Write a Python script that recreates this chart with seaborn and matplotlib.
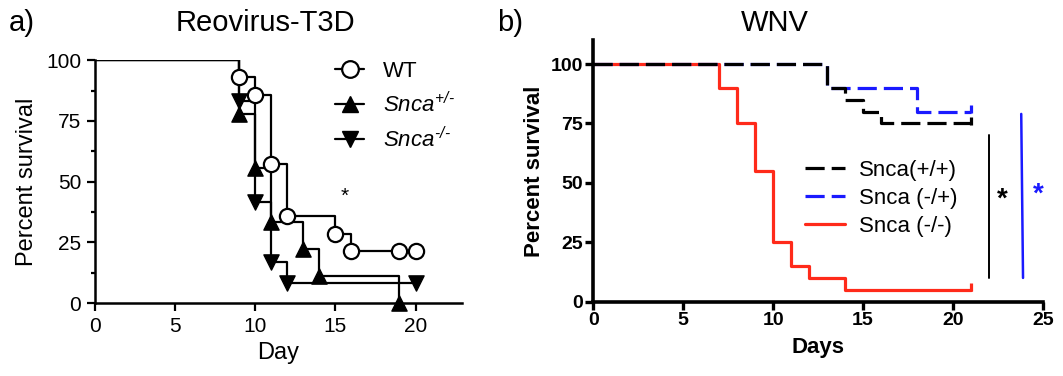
import matplotlib
matplotlib.use("Agg")
import matplotlib.pyplot as plt
import seaborn as sns
from matplotlib.lines import Line2D

# ---------------- data ----------------
# panel a: Reovirus-T3D, percent survival at each step (first point = start)
reo_wt_days = [0, 9, 10, 11, 12, 15, 16, 19, 20]
reo_wt_surv = [100, 92.9, 85.7, 57.1, 35.7, 28.6, 21.4, 21.4, 21.4]
reo_het_days = [0, 9, 10, 11, 13, 14, 19]
reo_het_surv = [100, 77.8, 55.6, 33.3, 22.2, 11.1, 0]
reo_ko_days = [0, 9, 10, 11, 12, 20]
reo_ko_surv = [100, 83.3, 41.7, 16.7, 8.3, 8.3]

# panel b: WNV
wnv_wt_days = [0, 13, 14, 15, 16, 21]
wnv_wt_surv = [100, 90, 85, 80, 75, 75]
wnv_het_days = [0, 13, 18, 21]
wnv_het_surv = [100, 90, 80, 80]
wnv_ko_days = [0, 7, 8, 9, 10, 11, 12, 14, 21]
wnv_ko_surv = [100, 90, 75, 55, 25, 15, 10, 5, 5]

reo_labels = ["WT", r"$\mathit{Snca}^{\mathit{+/\text{-}}}$",
              r"$\mathit{Snca}^{\text{-/-}}$"]
wnv_labels = ["Snca(+/+)", "Snca (-/+)", "Snca (-/-)"]

# ---------------- style ----------------
sns.set_style("ticks")
plt.rcParams["font.family"] = ["Liberation Sans", "DejaVu Sans"]
plt.rcParams["mathtext.fontset"] = "custom"
plt.rcParams["mathtext.rm"] = "Liberation Sans:italic"
plt.rcParams["mathtext.it"] = "Liberation Sans:italic"
for key in ["text.color", "axes.labelcolor", "axes.edgecolor",
            "xtick.color", "ytick.color"]:
    plt.rcParams[key] = "black"

fig = plt.figure(figsize=(10.63, 3.76), dpi=100)
ax1 = fig.add_axes([0.0894, 0.194, 0.3452, 0.646])
ax2 = fig.add_axes([0.5582, 0.1976, 0.4228, 0.6954])

# ======================================================
# panel a
# ======================================================
lw_a = 1.6
for days, surv in [(reo_wt_days, reo_wt_surv), (reo_het_days, reo_het_surv),
                   (reo_ko_days, reo_ko_surv)]:
    sns.lineplot(x=days, y=surv, ax=ax1, color="black", lw=lw_a,
                 drawstyle="steps-post", estimator=None, sort=False)

sns.scatterplot(x=reo_het_days[1:], y=reo_het_surv[1:], ax=ax1, marker="^",
                s=120, color="black", edgecolor="black", linewidth=1,
                clip_on=False, zorder=5)
sns.scatterplot(x=reo_ko_days[1:], y=reo_ko_surv[1:], ax=ax1, marker="v",
                s=120, color="black", edgecolor="black", linewidth=1,
                clip_on=False, zorder=5)
sns.scatterplot(x=reo_wt_days[1:], y=reo_wt_surv[1:], ax=ax1, marker="o",
                s=120, color="white", edgecolor="black", linewidth=1.6,
                clip_on=False, zorder=6)

ax1.set_xlim(0, 22.9)
ax1.set_ylim(0, 100)
ax1.set_xticks([0, 5, 10, 15, 20])
ax1.set_yticks([0, 25, 50, 75, 100])
ax1.set_yticks([12.5, 37.5, 62.5, 87.5], minor=True)
ax1.tick_params(axis="both", which="major", labelsize=15, length=6, width=1.6,
                pad=4, direction="out")
ax1.tick_params(axis="y", which="minor", length=3, width=1.6)
for s in ["left", "bottom"]:
    ax1.spines[s].set_linewidth(1.8)
sns.despine(ax=ax1)
ax1.set_xlabel("Day", fontsize=17, labelpad=4)
ax1.set_ylabel("Percent survival", fontsize=17, labelpad=6)
ax1.text(15.6, 44, "*", fontsize=15, ha="center", va="center")

handles_a = [
    Line2D([], [], color="black", lw=lw_a, marker="o", ms=12, mfc="white",
           mec="black", mew=1.6),
    Line2D([], [], color="black", lw=lw_a, marker="^", ms=12, mfc="black",
           mec="black"),
    Line2D([], [], color="black", lw=lw_a, marker="v", ms=12, mfc="black",
           mec="black"),
]
ax1.legend(handles_a, reo_labels, loc="upper left", bbox_to_anchor=(0.63, 1.035),
           frameon=False, fontsize=16, handlelength=1.3, handletextpad=0.85,
           labelspacing=0.45, borderaxespad=0)

# ======================================================
# panel b
# ======================================================
lw_b = 2.3
dash = (0, (6, 2.2))
wnv_series = [
    (wnv_ko_days, wnv_ko_surv, "#ff2a1a", "-"),
    (wnv_het_days, wnv_het_surv, "#1a1aff", dash),
    (wnv_wt_days, wnv_wt_surv, "black", dash),
]
for days, surv, col, ls in wnv_series:
    sns.lineplot(x=days, y=surv, ax=ax2, color=col, lw=lw_b, linestyle=ls,
                 drawstyle="steps-post", estimator=None, sort=False)
    ax2.plot(days[-1], surv[-1] + 1.2, marker="|", ms=6, mew=lw_b, color=col)

ax2.set_xlim(0, 25)
ax2.set_ylim(0, 110)
ax2.set_xticks([0, 5, 10, 15, 20, 25])
ax2.set_yticks([0, 25, 50, 75, 100])
ax2.tick_params(axis="both", which="major", labelsize=14, length=6, width=2.4,
                pad=1.5, direction="out")
for lab in ax2.get_xticklabels() + ax2.get_yticklabels():
    lab.set_fontweight("bold")
for s in ["left", "bottom"]:
    ax2.spines[s].set_linewidth(2.6)
sns.despine(ax=ax2)
ax2.set_xlabel("Days", fontsize=16, fontweight="bold", labelpad=6)
ax2.set_ylabel("Percent survival", fontsize=16, fontweight="bold", labelpad=4)

# significance bars
ax2.plot([22, 22], [10, 70], color="black", lw=1.4)
ax2.text(22.75, 43, "*", fontsize=20, fontweight="bold", color="black",
         ha="center", va="center")
ax2.plot([23.8, 23.9], [79, 10], color="#1a1aff", lw=1.8)
ax2.text(24.75, 45, "*", fontsize=20, fontweight="bold", color="#1a1aff",
         ha="center", va="center")

handles_b = [
    Line2D([], [], color="black", lw=lw_b, linestyle=dash),
    Line2D([], [], color="#1a1aff", lw=lw_b, linestyle=dash),
    Line2D([], [], color="#ff2a1a", lw=lw_b),
]
ax2.legend(handles_b, wnv_labels, loc="upper left", bbox_to_anchor=(0.45, 0.575),
           frameon=False, fontsize=16, handlelength=1.8, handletextpad=0.65,
           labelspacing=0.3, borderaxespad=0)

# ======================================================
# titles
# ======================================================
fig.text(0.008, 0.94, "a)", fontsize=21, va="center", ha="left")
fig.text(0.25, 0.94, "Reovirus-T3D", fontsize=21, va="center", ha="center")
fig.text(0.468, 0.94, "b)", fontsize=21, va="center", ha="left")
fig.text(0.729, 0.94, "WNV", fontsize=21, va="center", ha="center")

fig.savefig("out.png", dpi=100)
